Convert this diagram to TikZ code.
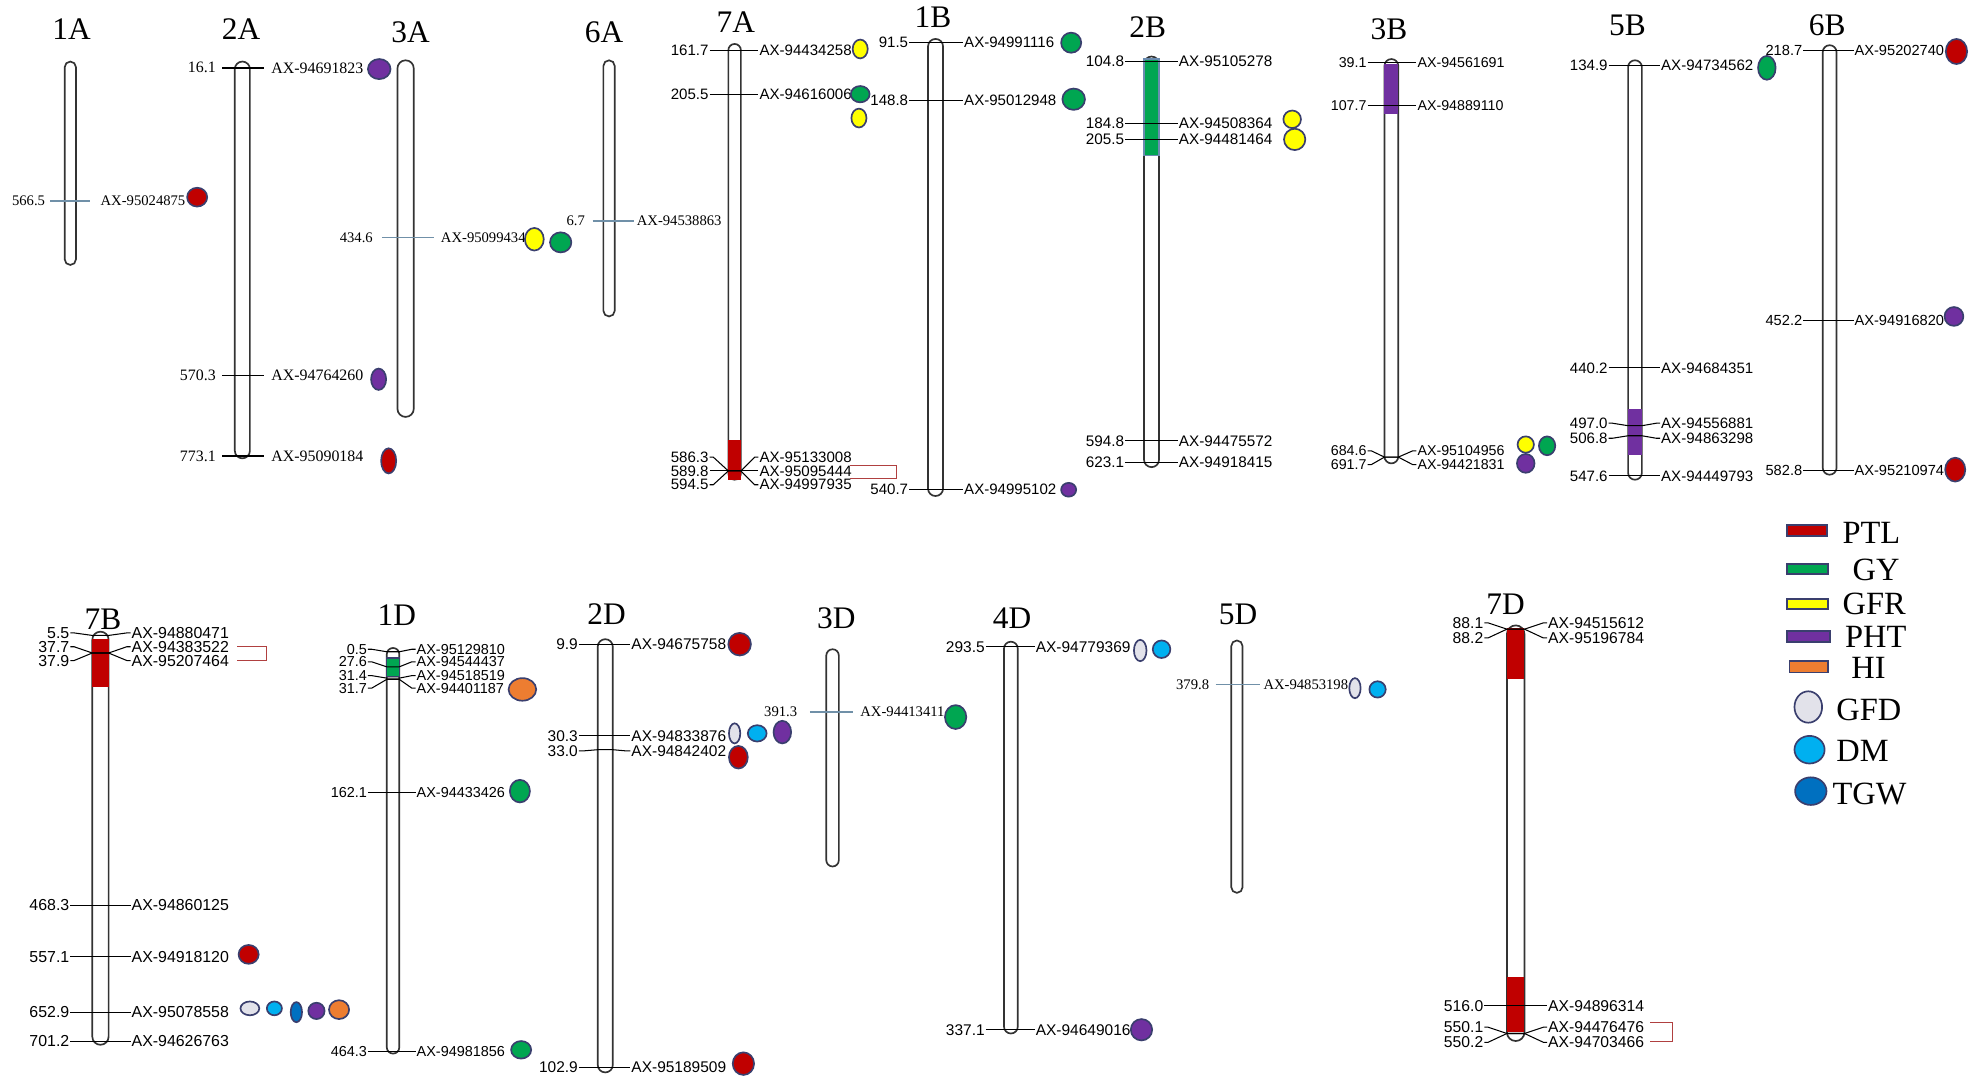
\documentclass[tikz,border=0pt]{standalone}
\usepackage{fontspec}
\setmainfont{Liberation Serif}
\setsansfont{Liberation Sans}
\usetikzlibrary{calc,shapes.geometric}

\definecolor{ptlc}{HTML}{C00000}
\definecolor{gyc}{HTML}{00A651}
\definecolor{gfrc}{HTML}{FFFF00}
\definecolor{phtc}{HTML}{7030A0}
\definecolor{hic}{HTML}{ED7D31}
\definecolor{gfdc}{HTML}{E2E2EA}
\definecolor{dmc}{HTML}{00B0F0}
\definecolor{tgwc}{HTML}{0070C0}
\definecolor{dotline}{HTML}{3A3F6E}
\definecolor{chrline}{HTML}{333333}
\definecolor{ticklb}{HTML}{7090A8}
\definecolor{segline}{HTML}{6A8CB0}
\definecolor{brkred}{HTML}{B04040}

\newcommand{\fsz}{7.5}
% x, width, left gap, right gap of the current chromosome
\newcommand{\setchr}[4]{\def\chx{#1}\def\chw{#2}\def\gapl{#3}\def\gapr{#4}}
\newcommand{\chrom}[3]{%
  \pgfmathsetmacro{\crad}{\chw*0.3}
  \node[chr, minimum width=\chw*0.6pt, minimum height=(#3-#2)*0.6pt, rounded corners=\crad pt] (#1) at (\chx,{(#2+#3)/2}) {};}
\newcommand{\seg}[3]{\path[#3] (\chx-\chw/2,#1) rectangle (\chx+\chw/2,#2);}
% name, y on chromosome, y of labels, position, marker
\newcommand{\mkr}[5]{%
  \node[num] (#1n) at (\chx-\gapl,#3) {#4};
  \node[lab] (#1m) at (\chx+\gapr,#3) {#5};
  \draw[tick] (#1n.east) -- ++(3,0) -- (\chx-\chw/2,#2) -- (\chx+\chw/2,#2) -- ($(#1m.west)+(-3,0)$) -- (#1m.west);}
% serif marker: name, y, position, marker, shorten left, shorten right
\newcommand{\mks}[6]{%
  \node[snum] (#1n) at (\chx-\gapl,#2) {#3};
  \node[slab] (#1m) at (\chx+\gapr,#2) {#4};
  \draw[stick, shorten <=#5, shorten >=#6] (#1n.east) -- (#1m.west);}
\newcommand{\trait}[6]{\node[dot,#6,minimum width=#4*0.6pt,minimum height=#5*0.6pt] (#1) at (#2,#3) {};}

\begin{document}
\begin{tikzpicture}[x=0.6pt,y=-0.6pt]
    \tikzstyle{chr}=[draw=chrline, line width=0.8pt, fill=white, inner sep=0pt, outer sep=0pt]
    \tikzstyle{num}=[anchor=east, inner sep=0.3pt, font=\sffamily\fontsize{\fsz}{9}\selectfont]
    \tikzstyle{lab}=[anchor=west, inner sep=0.3pt, font=\sffamily\fontsize{\fsz}{9}\selectfont]
    \tikzstyle{snum}=[anchor=east, inner sep=0.5pt, font=\fontsize{\fsz}{9}\selectfont]
    \tikzstyle{slab}=[anchor=west, inner sep=0.5pt, font=\fontsize{\fsz}{9}\selectfont]
    \tikzstyle{tick}=[line width=0.5pt]
    \tikzstyle{stick}=[draw=ticklb, line width=0.6pt]
    \tikzstyle{title}=[inner sep=0pt, font=\fontsize{15}{18}\selectfont]
    \tikzstyle{dot}=[ellipse, draw=dotline, line width=0.8pt, inner sep=0pt]
    \tikzstyle{brk}=[draw=brkred, line width=0.5pt]
    \tikzstyle{key}=[draw=dotline, line width=0.9pt, inner sep=0pt]
    \tikzstyle{keytext}=[anchor=west, inner sep=0pt, font=\fontsize{15.5}{18}\selectfont]
    \tikzstyle{ptl}=[fill=ptlc]
    \tikzstyle{gy}=[fill=gyc]
    \tikzstyle{gfr}=[fill=gfrc]
    \tikzstyle{pht}=[fill=phtc]
    \tikzstyle{hi}=[fill=hic]
    \tikzstyle{gfd}=[fill=gfdc]
    \tikzstyle{dm}=[fill=dmc]
    \tikzstyle{tgw}=[fill=tgwc]
    \useasboundingbox (0,0) rectangle (1568,861);

    % 1A
    \node[title] (t1A) at (57,23) {1A};
    \setchr{56}{9}{19}{23}\def\fsz{7}
    \chrom{c1A}{49}{211}
    \mks{m1A}{160}{566.5}{AX-95024875}{1.8pt}{4.2pt}
    \trait{d1A}{157}{157}{16}{15}{ptl}

    % 2A
    \node[title] (t2A) at (192,23) {2A};
    \setchr{193}{12}{20}{22}\def\fsz{7.6}
    \chrom{c2A}{49}{365}
    \begin{scope}[stick/.style={draw=black, line width=0.9pt}]
        \mks{m2Aa}{54}{16.1}{AX-94691823}{2.4pt}{3pt}
        \mks{m2Ab}{299}{570.3}{AX-94764260}{2.4pt}{3pt}
        \mks{m2Ac}{363}{773.1}{AX-95090184}{2.4pt}{3pt}
    \end{scope}
    \trait{d2Aa}{302}{55}{18}{16}{pht}
    \trait{d2Ab}{301.5}{302}{12}{17}{pht}
    \trait{d2Ac}{309.5}{367}{12}{20}{ptl}

    % 3A
    \node[title] (t3A) at (327,26) {3A};
    \setchr{323}{13}{25}{27}\def\fsz{7}
    \chrom{c3A}{48}{332}
    \mks{m3A}{189}{434.6}{AX-95099434}{3.6pt}{2.4pt}
    \trait{d3Aa}{425.5}{190.5}{15}{18}{gfr}
    \trait{d3Ab}{446.5}{193}{17}{16}{gy}

    % 6A
    \node[title] (t6A) at (481,26) {6A};
    \setchr{485}{9}{18}{21}
    \chrom{c6A}{48}{252}
    \mks{m6A}{176}{6.7}{AX-94538863}{3pt}{0.6pt}

    % 7A
    \node[title] (t7A) at (586,18) {7A};
    \setchr{585}{10}{20}{19}\def\fsz{7.2}
    \chrom{c7A}{35}{382}
    \seg{350}{382}{fill=ptlc}
    \mkr{m7Aa}{40}{40}{161.7}{AX-94434258}
    \mkr{m7Ab}{75}{75}{205.5}{AX-94616006}
    \mkr{m7Ac}{375}{364}{586.3}{AX-95133008}
    \mkr{m7Ad}{375}{375}{589.8}{AX-95095444}
    \mkr{m7Ae}{375}{386}{594.5}{AX-94997935}
    \draw[brk] (677,371) -- (714,371) -- (714,381) -- (677,381);
    \trait{d7Aa}{685}{39}{12}{15}{gfr}
    \trait{d7Ab}{685}{75}{15}{13}{gy}
    \trait{d7Ac}{684}{94}{12}{15}{gfr}

    % 1B
    \node[title] (t1B) at (743,14) {1B};
    \setchr{745}{12}{21}{22}
    \chrom{c1B}{31}{395}
    \mkr{m1Ba}{34}{34}{91.5}{AX-94991116}
    \mkr{m1Bb}{80}{80}{148.8}{AX-95012948}
    \mkr{m1Bc}{390}{390}{540.7}{AX-94995102}
    \trait{d1Ba}{853}{34}{16}{16}{gy}
    \trait{d1Bb}{855}{79}{18}{17}{gy}
    \trait{d1Bc}{851}{390}{12}{11}{pht}

    % 2B
    \node[title] (t2B) at (914,22) {2B};
    \setchr{917}{12}{21}{21}\def\fsz{7.3}
    \chrom{c2B}{45}{372}
    \seg{47}{124}{fill=gyc, draw=segline, line width=0.6pt}
    \mkr{m2Ba}{49}{49}{104.8}{AX-95105278}
    \mkr{m2Bb}{98}{98}{184.8}{AX-94508364}
    \mkr{m2Bc}{111}{111}{205.5}{AX-94481464}
    \mkr{m2Bd}{351}{351}{594.8}{AX-94475572}
    \mkr{m2Be}{368}{368}{623.1}{AX-94918415}
    \trait{d2Ba}{1029}{95}{14}{14}{gfr}
    \trait{d2Bb}{1031}{111}{17}{17}{gfr}

    % 3B
    \node[title] (t3B) at (1106,23) {3B};
    \setchr{1108}{11}{19}{20}\def\fsz{6.8}
    \chrom{c3B}{47}{369}
    \seg{51}{91}{fill=phtc}
    \mkr{m3Ba}{50}{50}{39.1}{AX-94561691}
    \mkr{m3Bb}{84}{84}{107.7}{AX-94889110}
    \mkr{m3Bc}{364}{359}{684.6}{AX-95104956}
    \mkr{m3Bd}{364}{370}{691.7}{AX-94421831}
    \trait{d3Ba}{1215}{354}{13}{13}{gfr}
    \trait{d3Bb}{1232}{355}{13}{15}{gy}
    \trait{d3Bc}{1215}{369}{14}{15}{pht}

    % 5B
    \node[title] (t5B) at (1296,20) {5B};
    \setchr{1302}{11}{21}{20}\def\fsz{7.2}
    \chrom{c5B}{48}{382}
    \seg{326}{362}{fill=phtc}
    \mkr{m5Ba}{52}{52}{134.9}{AX-94734562}
    \mkr{m5Bb}{293}{293}{440.2}{AX-94684351}
    \mkr{m5Bc}{339}{337}{497.0}{AX-94556881}
    \mkr{m5Bd}{347}{349}{506.8}{AX-94863298}
    \mkr{m5Be}{379}{379}{547.6}{AX-94449793}
    \trait{d5B}{1407}{54}{14}{19}{gy}

    % 6B
    \node[title] (t6B) at (1455,20) {6B};
    \setchr{1457}{11}{21}{19}\def\fsz{7}
    \chrom{c6B}{36}{378}
    \mkr{m6Ba}{40}{40}{218.7}{AX-95202740}
    \mkr{m6Bb}{255}{255}{452.2}{AX-94916820}
    \mkr{m6Bc}{375}{375}{582.8}{AX-95210974}
    \trait{d6Ba}{1558}{41}{17}{20}{ptl}
    \trait{d6Bb}{1556}{252}{15}{15}{pht}
    \trait{d6Bc}{1557}{374}{16}{19}{ptl}

    % 7B
    \node[title] (t7B) at (82,493) {7B};
    \setchr{80}{13}{24}{24}\def\fsz{7.6}
    \chrom{c7B}{503}{832}
    \seg{509}{547}{fill=ptlc}
    \mkr{m7Ba}{506}{504}{5.5}{AX-94880471}
    \mkr{m7Bb}{520}{515}{37.7}{AX-94383522}
    \mkr{m7Bc}{520}{526}{37.9}{AX-95207464}
    \mkr{m7Bd}{721}{721}{468.3}{AX-94860125}
    \mkr{m7Be}{762}{762}{557.1}{AX-94918120}
    \mkr{m7Bf}{806}{806}{652.9}{AX-95078558}
    \mkr{m7Bg}{829}{829}{701.2}{AX-94626763}
    \draw[brk] (189,515) -- (212,515) -- (212,526) -- (189,526);
    \trait{d7Ba}{198}{760}{16}{15}{ptl}
    \trait{d7Bb}{199}{803}{15}{11}{gfd}
    \trait{d7Bc}{218.5}{803}{12}{11}{dm}
    \trait{d7Bd}{236}{806}{9}{16}{tgw}
    \trait{d7Be}{252}{805}{13}{13}{pht}
    \trait{d7Bf}{270}{804}{16}{15}{hi}

    % 1D
    \node[title] (t1D) at (316,490) {1D};
    \setchr{313}{10}{20}{18}\def\fsz{6.9}
    \chrom{c1D}{516}{839}
    \seg{524}{539}{fill=gyc, draw=dotline, line width=0.6pt}
    \mkr{m1Da}{519}{517}{0.5}{AX-95129810}
    \mkr{m1Db}{531}{527}{27.6}{AX-94544437}
    \mkr{m1Dc}{540}{538}{31.4}{AX-94518519}
    \mkr{m1Dd}{541}{548}{31.7}{AX-94401187}
    \mkr{m1De}{631}{631}{162.1}{AX-94433426}
    \mkr{m1Df}{837}{837}{464.3}{AX-94981856}
    \trait{d1Da}{416}{549}{22}{18}{hi}
    \trait{d1Db}{414}{630}{16}{18}{gy}
    \trait{d1Dc}{415}{836}{16}{14}{gy}

    % 2D
    \node[title] (t2D) at (483,489) {2D};
    \setchr{482}{12}{21}{20}\def\fsz{7.4}
    \chrom{c2D}{509}{854}
    \mkr{m2Da}{513}{513}{9.9}{AX-94675758}
    \mkr{m2Db}{586}{586}{30.3}{AX-94833876}
    \mkr{m2Dc}{597}{598}{33.0}{AX-94842402}
    \mkr{m2Dd}{850}{850}{102.9}{AX-95189509}
    \trait{d2Da}{589}{513}{18}{18}{ptl}
    \trait{d2Db}{585}{584}{9}{16}{gfd}
    \trait{d2Dc}{603}{584}{15}{13}{dm}
    \trait{d2Dd}{623}{583}{14}{18}{pht}
    \trait{d2De}{588}{603}{15}{18}{ptl}
    \trait{d2Df}{592}{847}{17}{18}{ptl}

    % 3D
    \node[title] (t3D) at (666,492) {3D};
    \setchr{663}{10}{27}{21}\def\fsz{7}
    \chrom{c3D}{517}{690}
    \mks{m3D}{567}{391.3}{AX-94413411}{5.4pt}{2.6pt}
    \trait{d3D}{761}{571}{17}{19}{gy}

    % 4D
    \node[title] (t4D) at (806,492) {4D};
    \setchr{805}{11}{20}{19}\def\fsz{7.4}
    \chrom{c4D}{511}{823}
    \mkr{m4Da}{515}{515}{293.5}{AX-94779369}
    \mkr{m4Db}{820}{820}{337.1}{AX-94649016}
    \trait{d4Da}{908}{518}{10}{17}{gfd}
    \trait{d4Db}{925}{517}{14}{14}{dm}
    \trait{d4Dc}{909}{820}{17}{17}{pht}

    % 5D
    \node[title] (t5D) at (986,489) {5D};
    \setchr{985}{9}{21}{20}\def\fsz{7}
    \chrom{c5D}{510}{711}
    \mks{m5D}{545}{379.8}{AX-94853198}{2.4pt}{1.2pt}
    \trait{d5Da}{1079}{548}{9}{16}{gfd}
    \trait{d5Db}{1097}{549}{13}{13}{dm}

    % 7D
    \node[title] (t7D) at (1199,481) {7D};
    \setchr{1207}{14}{25}{25}\def\fsz{7.5}
    \chrom{c7D}{498}{829}
    \seg{500}{541}{fill=ptlc}
    \seg{778}{822}{fill=ptlc}
    \mkr{m7Da}{501}{496}{88.1}{AX-94515612}
    \mkr{m7Db}{501}{508}{88.2}{AX-95196784}
    \mkr{m7Dc}{801}{801}{516.0}{AX-94896314}
    \mkr{m7Dd}{823}{818}{550.1}{AX-94476476}
    \mkr{m7De}{823}{830}{550.2}{AX-94703466}
    \draw[brk] (1314,814) -- (1332,814) -- (1332,829) -- (1314,829);

    % legend
    \node[key, ptl, minimum width=19.2pt, minimum height=5.4pt] (kPTL) at (1439,422.5) {};
    \node[key, gy, minimum width=19.8pt, minimum height=4.8pt] (kGY) at (1439.5,453) {};
    \node[key, gfr, minimum width=19.8pt, minimum height=4.8pt] (kGFR) at (1439.5,481) {};
    \node[key, pht, minimum width=20.4pt, minimum height=5.4pt] (kPHT) at (1440,507) {};
    \node[key, hi, minimum width=18.6pt, minimum height=5.4pt] (kHI) at (1440.5,531) {};
    \node[dot, gfd, minimum width=13.2pt, minimum height=15pt] (kGFD) at (1440,563) {};
    \node[dot, dm, minimum width=14.4pt, minimum height=13.2pt] (kDM) at (1441,597) {};
    \node[dot, tgw, minimum width=15pt, minimum height=13.2pt] (kTGW) at (1442,630) {};
    \node[keytext] (lPTL) at (1467,424) {PTL};
    \node[keytext] (lGY) at (1475,454) {GY};
    \node[keytext] (lGFR) at (1467,481) {GFR};
    \node[keytext] (lPHT) at (1469,507) {PHT};
    \node[keytext] (lHI) at (1474,532) {HI};
    \node[keytext] (lGFD) at (1462,565) {GFD};
    \node[keytext] (lDM) at (1462,598) {DM};
    \node[keytext] (lTGW) at (1459,632) {TGW};
\end{tikzpicture}
\end{document}
